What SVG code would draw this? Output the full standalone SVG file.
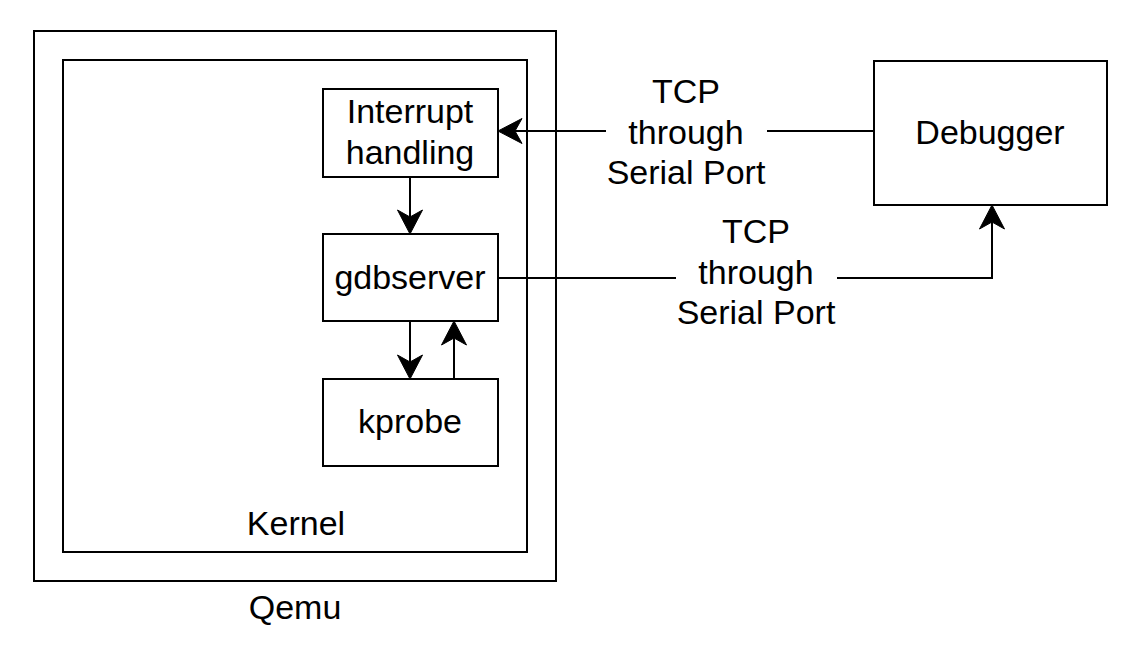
<svg xmlns="http://www.w3.org/2000/svg" width="1136" height="652" viewBox="0 0 1136 652">
  <style>
    .box { fill: #ffffff; stroke: #000000; stroke-width: 2; }
    .lbl { font-family: "Liberation Sans", Arial, Helvetica, sans-serif; font-size: 34px; fill: #000000; text-anchor: middle; }
    .edge { fill: none; stroke: #000000; stroke-width: 2; }
    .bg { fill: #ffffff; stroke: none; }
  </style>
  <defs>
    <marker id="arrow" markerUnits="userSpaceOnUse" viewBox="-25 -14 27 28" markerWidth="27" markerHeight="28" refX="-17" refY="0" orient="auto" overflow="visible">
      <path d="M0,0 L-24,-12.5 L-17,0 L-24,12.5 Z" fill="#000000" stroke="#000000" stroke-width="1"/>
    </marker>
  </defs>
  <rect width="1136" height="652" fill="#ffffff"/>

  <g id="qemu">
    <rect class="box" x="34" y="31" width="522" height="550"/>
    <text class="lbl" x="295" y="619">Qemu</text>
  </g>
  <g id="kernel">
    <rect class="box" x="63" y="60" width="464" height="492"/>
    <text class="lbl" x="296" y="535">Kernel</text>
  </g>
  <g id="interrupt">
    <rect class="box" x="323" y="89" width="175" height="88"/>
    <text class="lbl" x="410" y="123">Interrupt</text>
    <text class="lbl" x="410" y="164">handling</text>
  </g>
  <g id="gdbserver">
    <rect class="box" x="323" y="234" width="175" height="87"/>
    <text class="lbl" x="410" y="289">gdbserver</text>
  </g>
  <g id="kprobe">
    <rect class="box" x="323" y="379" width="175" height="87"/>
    <text class="lbl" x="410" y="433">kprobe</text>
  </g>
  <g id="debugger">
    <rect class="box" x="874" y="61" width="233" height="144"/>
    <text class="lbl" x="990" y="144">Debugger</text>
  </g>

  <g id="connectors">
    <path class="edge" d="M874,131 H515" marker-end="url(#arrow)"/>
    <path class="edge" d="M498,278 H992 V222" marker-end="url(#arrow)"/>
    <path class="edge" d="M410,177 V217" marker-end="url(#arrow)"/>
    <path class="edge" d="M410,321 V362" marker-end="url(#arrow)"/>
    <path class="edge" d="M454,379 V338" marker-end="url(#arrow)"/>
    <g id="label-tcp-1">
      <rect class="bg" x="606" y="120" width="161" height="22"/>
      <text class="lbl" x="686" y="103">TCP</text>
      <text class="lbl" x="686" y="143.5">through</text>
      <text class="lbl" x="686" y="183.5">Serial Port</text>
    </g>
    <g id="label-tcp-2">
      <rect class="bg" x="676" y="267" width="161" height="22"/>
      <text class="lbl" x="756" y="243">TCP</text>
      <text class="lbl" x="756" y="284">through</text>
      <text class="lbl" x="756" y="323.5">Serial Port</text>
    </g>
  </g>
</svg>
